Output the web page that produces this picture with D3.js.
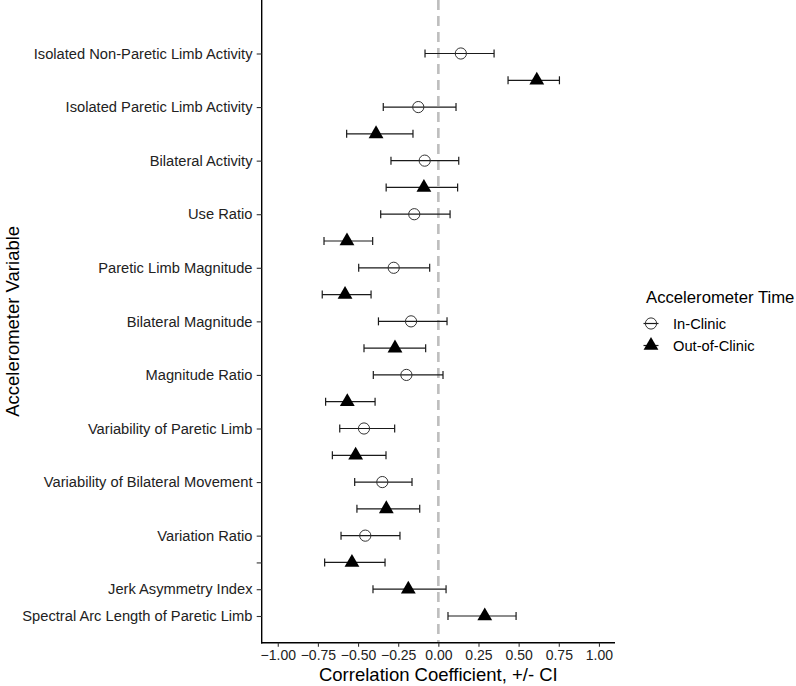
<!DOCTYPE html>
<html><head><meta charset="utf-8">
<script src="https://cdn.jsdelivr.net/npm/d3@7/dist/d3.min.js"></script>
<style>
html,body{margin:0;padding:0;background:#fff;}
svg{display:block;font-family:"Liberation Sans",Arial,Helvetica,sans-serif;}
</style></head>
<body>
<svg id="chart" width="796" height="686"></svg>
<script>
const categories = ["Isolated Non-Paretic Limb Activity","Isolated Paretic Limb Activity","Bilateral Activity","Use Ratio","Paretic Limb Magnitude","Bilateral Magnitude","Magnitude Ratio","Variability of Paretic Limb","Variability of Bilateral Movement","Variation Ratio","Jerk Asymmetry Index","Spectral Arc Length of Paretic Limb"];
const inClinicEst = [0.14, -0.125, -0.085, -0.15, -0.278, -0.17, -0.199, -0.463, -0.349, -0.455, null, null];
const inClinicLo  = [-0.083, -0.343, -0.295, -0.359, -0.496, -0.373, -0.405, -0.614, -0.521, -0.606, null, null];
const inClinicHi  = [0.347, 0.110, 0.127, 0.073, -0.054, 0.054, 0.029, -0.272, -0.164, -0.239, null, null];
const outClinicEst = [0.613, -0.388, -0.09, -0.569, -0.581, -0.270, -0.567, -0.515, -0.324, -0.538, -0.187, 0.289];
const outClinicLo  = [0.434, -0.571, -0.325, -0.712, -0.723, -0.463, -0.702, -0.660, -0.507, -0.708, -0.407, 0.060];
const outClinicHi  = [0.754, -0.158, 0.120, -0.409, -0.419, -0.079, -0.394, -0.326, -0.116, -0.332, 0.048, 0.484];
const xTicks = [-1, -0.75, -0.5, -0.25, 0, 0.25, 0.5, 0.75, 1];
const seriesNames = ["In-Clinic", "Out-of-Clinic"];
const blankTickCategories = ["Variation Ratio"];

// build rows
const rows = [];
const points = [];
categories.forEach((c, i) => {
  if (inClinicEst[i] !== null) {
    rows.push({key: c, label: c, tick: true});
    points.push({row: c, s: 0, est: inClinicEst[i], lo: inClinicLo[i], hi: inClinicHi[i]});
    const k2 = c + "|out";
    rows.push({key: k2, label: "", tick: blankTickCategories.includes(c)});
    points.push({row: k2, s: 1, est: outClinicEst[i], lo: outClinicLo[i], hi: outClinicHi[i]});
  } else {
    rows.push({key: c, label: c, tick: true});
    points.push({row: c, s: 1, est: outClinicEst[i], lo: outClinicLo[i], hi: outClinicHi[i]});
  }
});

const svg = d3.select("#chart");
const panel = {left: 261.7, right: 615, top: 0, bottom: 642.7};

const x = d3.scaleLinear().domain([-1.1, 1.1]).range([panel.left, panel.right]);
const y = d3.scalePoint().domain(rows.map(r => r.key)).range([53.5, 616]);

// zero line
svg.append("line")
  .attr("x1", x(0)).attr("x2", x(0)).attr("y1", panel.top).attr("y2", panel.bottom)
  .attr("stroke", "#bebebe").attr("stroke-width", 2.6).attr("stroke-dasharray", "10,6");

// error bars
const g = svg.append("g");
const cap = 4;
points.forEach(p => {
  const yy = y(p.row);
  g.append("line").attr("x1", x(p.lo)).attr("x2", x(p.hi)).attr("y1", yy).attr("y2", yy)
    .attr("stroke", "#1a1a1a").attr("stroke-width", 1.2);
  [p.lo, p.hi].forEach(v => {
    g.append("line").attr("x1", x(v)).attr("x2", x(v)).attr("y1", yy - cap).attr("y2", yy + cap)
      .attr("stroke", "#1a1a1a").attr("stroke-width", 1.2);
  });
});
const tri = d3.symbol().type(d3.symbolTriangle).size(95);
function drawMarker(sel, s, cx, cy) {
  if (s === 0) {
    sel.append("circle").attr("cx", cx).attr("cy", cy).attr("r", 5.6)
      .attr("fill", "none").attr("stroke", "#333").attr("stroke-width", 1);
  } else {
    sel.append("path").attr("d", tri).attr("transform", `translate(${cx},${cy})`).attr("fill", "#000");
  }
}
points.forEach(p => drawMarker(g, p.s, x(p.est), y(p.row)));

// axes lines
svg.append("line").attr("x1", panel.left).attr("x2", panel.left).attr("y1", panel.top).attr("y2", panel.bottom + 0.7)
  .attr("stroke", "#000").attr("stroke-width", 1.4);
svg.append("line").attr("x1", panel.left - 0.7).attr("x2", panel.right).attr("y1", panel.bottom).attr("y2", panel.bottom)
  .attr("stroke", "#000").attr("stroke-width", 1.4);

// y axis
const yAxis = d3.axisLeft(y)
  .tickValues(rows.filter(r => r.tick).map(r => r.key))
  .tickFormat(k => rows.find(r => r.key === k).label)
  .tickSize(5).tickPadding(4.2);
const ya = svg.append("g").attr("transform", `translate(${panel.left},0)`).call(yAxis);
ya.select(".domain").remove();
ya.selectAll(".tick line").attr("stroke", "#333").attr("stroke-width", 1.1);
ya.selectAll(".tick text").attr("fill", "#222").style("font-size", "14.7px").style("font-family", '"Liberation Sans",Arial,sans-serif');

// x axis
const xAxis = d3.axisBottom(x).tickValues(xTicks).tickFormat(d3.format(".2f")).tickSize(4).tickPadding(3);
const xa = svg.append("g").attr("transform", `translate(0,${panel.bottom})`).call(xAxis);
xa.select(".domain").remove();
xa.selectAll(".tick line").attr("stroke", "#333").attr("stroke-width", 1.1);
xa.selectAll(".tick text").attr("fill", "#222").style("font-size", "14px").style("font-family", '"Liberation Sans",Arial,sans-serif');

// titles
svg.append("text").attr("x", (panel.left + panel.right) / 2).attr("y", 681)
  .attr("text-anchor", "middle").style("font-size", "18.5px").attr("fill", "#000")
  .text("Correlation Coefficient, +/- CI");
svg.append("text").attr("transform", `translate(19,${(panel.top + panel.bottom) / 2}) rotate(-90)`)
  .attr("text-anchor", "middle").style("font-size", "18.5px").attr("fill", "#000")
  .text("Accelerometer Variable");

// legend
const lg = svg.append("g");
lg.append("text").attr("x", 646).attr("y", 303).style("font-size", "16.7px").attr("fill", "#000").text("Accelerometer Time");
seriesNames.forEach((name, i) => {
  const cy = 323.5 + i * 22;
  lg.append("line").attr("x1", 643.5).attr("x2", 658.5).attr("y1", cy).attr("y2", cy)
    .attr("stroke", "#1a1a1a").attr("stroke-width", 1.2);
  drawMarker(lg, i, 651, cy);
  lg.append("text").attr("x", 673).attr("y", cy + 5.2).style("font-size", "14.7px").attr("fill", "#000").text(name);
});
</script>
</body></html>
